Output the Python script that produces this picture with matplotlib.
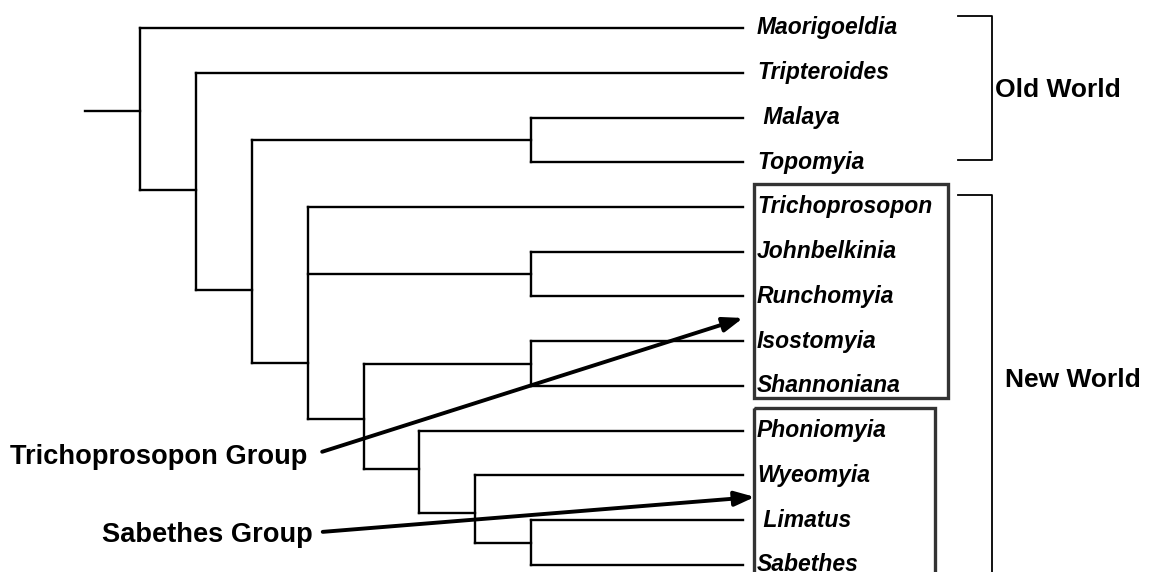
import matplotlib.pyplot as plt
from matplotlib.patches import Rectangle

plt.rcParams['font.family'] = ['Liberation Sans', 'DejaVu Sans']

# tips, top to bottom (y = row index)
taxa = ['Maorigoeldia', 'Tripteroides', ' Malaya', 'Topomyia',
        'Trichoprosopon', 'Johnbelkinia', 'Runchomyia', 'Isostomyia',
        'Shannoniana', 'Phoniomyia', 'Wyeomyia', ' Limatus', 'Sabethes']
tip_level = 10.79
root_level = -0.98

# internal nodes: depth level, y where the parent branch joins, children
nodes = ['A', 'B', 'C', 'D', 'E', 'F', 'G', 'MT', 'JR', 'IS', 'LS']
node_level = [0, 1, 2, 3, 4, 5, 6, 7, 7, 7, 7]
node_y = [1.85, 3.62, 5.85, 7.49, 8.74, 9.86, 10.84, 2.5, 5.5, 7.5, 11.5]
children = [
    ['Maorigoeldia', 'B'],
    ['Tripteroides', 'C'],
    ['MT', 'D'],
    ['Trichoprosopon', 'JR', 'E'],
    ['IS', 'F'],
    ['Phoniomyia', 'G'],
    ['Wyeomyia', 'LS'],
    [' Malaya', 'Topomyia'],
    ['Johnbelkinia', 'Runchomyia'],
    ['Isostomyia', 'Shannoniana'],
    [' Limatus', 'Sabethes'],
]

# regions on the right: name, top, bottom (row units)
regions = ['Old World', 'New World']
region_top = [-0.27, 3.73]
region_bottom = [2.95, 12.8]
region_label_y = [1.34, 7.82]
region_label_x = [15.3, 15.48]

# boxed groups and their arrows
groups = ['Trichoprosopon Group', 'Sabethes Group']
group_box = [(10.98, 3.49, 14.45, 8.27), (10.98, 8.49, 14.22, 12.8)]
group_label_xy = [(3.0, 9.52), (3.09, 11.27)]
group_arrow_from = [(3.26, 9.47), (3.27, 11.26)]
group_arrow_to = [(10.79, 6.48), (11.0, 10.48)]

pos = {name: (tip_level, i) for i, name in enumerate(taxa)}
pos.update({n: (l, y) for n, l, y in zip(nodes, node_level, node_y)})

fig = plt.figure(figsize=(11.5, 5.72), dpi=100)
ax = fig.add_axes([0, 0, 1, 1])
ax.set_xlim(-2.504, 18.07)
ax.set_ylim(12.157, -0.626)
ax.axis('off')

line_kw = dict(color='black', lw=1.7, solid_capstyle='projecting')
for n, kids in zip(nodes, children):
    x = pos[n][0]
    ys = [pos[k][1] for k in kids]
    ax.plot([x, x], [min(ys), max(ys)], **line_kw)
    for k in kids:
        kx, ky = pos[k]
        ax.plot([x, kx], [ky, ky], **line_kw)
ax.plot([root_level, pos['A'][0]], [pos['A'][1]] * 2, **line_kw)

for i, name in enumerate(taxa):
    ax.text(tip_level + 0.25, i - 0.06, name, fontsize=16.5, fontweight='bold',
            fontstyle='italic', ha='left', va='center_baseline')

for name, top, bot, lx, ly in zip(regions, region_top, region_bottom,
                                  region_label_x, region_label_y):
    ax.plot([14.63, 15.24, 15.24, 14.63], [top, top, bot, bot],
            color='black', lw=1.3)
    ax.text(lx, ly, name, fontsize=19, fontweight='bold', ha='left',
            va='center_baseline')

for name, box, lxy, a0, a1 in zip(groups, group_box, group_label_xy,
                                  group_arrow_from, group_arrow_to):
    x0, y0, x1, y1 = box
    ax.add_patch(Rectangle((x0, y0), x1 - x0, y1 - y0, fill=False,
                           edgecolor='#333333', lw=2.4))
    ax.text(lxy[0], lxy[1], name, fontsize=19.6, fontweight='bold',
            ha='right', va='center_baseline')
    ax.annotate('', xy=a1, xytext=a0,
                arrowprops=dict(arrowstyle='-|>,head_length=0.6,head_width=0.22',
                                mutation_scale=20, lw=2.8, color='black',
                                shrinkA=0, shrinkB=0))

fig.savefig('out.png', dpi=100)
